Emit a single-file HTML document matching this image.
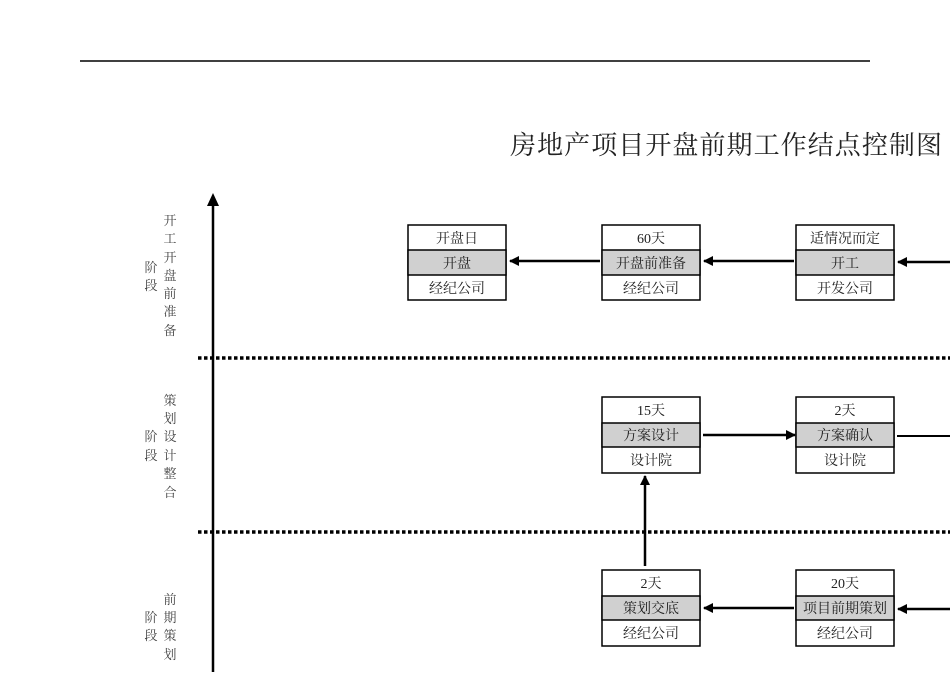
<!DOCTYPE html>
<html><head><meta charset="utf-8"><style>
html,body{margin:0;padding:0;background:#fff;}
svg text{font-family:"Liberation Serif","Noto Serif CJK SC",serif;}
</style></head><body>
<svg width="950" height="672" viewBox="0 0 950 672" xmlns="http://www.w3.org/2000/svg">
<defs>
<marker id="ah" markerWidth="10" markerHeight="10" refX="9" refY="5" orient="auto" markerUnits="userSpaceOnUse">
<path d="M0,0 L10,5 L0,10 z" fill="#000"/></marker>
</defs>
<line x1="80" y1="61" x2="870" y2="61" stroke="#000" stroke-width="1.5"/>
<text x="510" y="154" font-size="26" fill="#222" textLength="432">房地产项目开盘前期工作结点控制图</text>
<line x1="213" y1="672" x2="213" y2="204" stroke="#000" stroke-width="2.5"/>
<path d="M207,206 L213,193 L219,206 z" fill="#000"/>
<line x1="198" y1="358" x2="950" y2="358" stroke="#000" stroke-width="3.5" stroke-dasharray="3.5,2.5"/>
<line x1="198" y1="532" x2="950" y2="532" stroke="#000" stroke-width="3.5" stroke-dasharray="3.5,2.5"/>
<g font-size="13" fill="#444" text-anchor="middle">
<text x="170" y="225">开</text><text x="170" y="243">工</text><text x="170" y="262">开</text><text x="170" y="280">盘</text><text x="170" y="298">前</text><text x="170" y="316">准</text><text x="170" y="335">备</text>
<text x="151" y="272">阶</text><text x="151" y="290">段</text>
<text x="170" y="405">策</text><text x="170" y="423">划</text><text x="170" y="441">设</text><text x="170" y="460">计</text><text x="170" y="478">整</text><text x="170" y="497">合</text>
<text x="151" y="441">阶</text><text x="151" y="460">段</text>
<text x="170" y="604">前</text><text x="170" y="622">期</text><text x="170" y="640">策</text><text x="170" y="659">划</text>
<text x="151" y="622">阶</text><text x="151" y="640">段</text>
</g>
<g stroke="#000" stroke-width="1.5" font-size="14" text-anchor="middle">
<g transform="translate(408,225)">
<rect x="0" y="0" width="98" height="75" fill="#fff"/><rect x="0" y="25" width="98" height="25" fill="#d0d0d0"/>
<g stroke="none" fill="#222"><text x="49" y="18">开盘日</text><text x="49" y="43">开盘</text><text x="49" y="68">经纪公司</text></g></g>
<g transform="translate(602,225)">
<rect x="0" y="0" width="98" height="75" fill="#fff"/><rect x="0" y="25" width="98" height="25" fill="#d0d0d0"/>
<g stroke="none" fill="#222"><text x="49" y="18">60天</text><text x="49" y="43">开盘前准备</text><text x="49" y="68">经纪公司</text></g></g>
<g transform="translate(796,225)">
<rect x="0" y="0" width="98" height="75" fill="#fff"/><rect x="0" y="25" width="98" height="25" fill="#d0d0d0"/>
<g stroke="none" fill="#222"><text x="49" y="18">适情况而定</text><text x="49" y="43">开工</text><text x="49" y="68">开发公司</text></g></g>
<g transform="translate(602,397)">
<rect x="0" y="0" width="98" height="76" fill="#fff"/><rect x="0" y="26" width="98" height="24" fill="#d0d0d0"/>
<g stroke="none" fill="#222"><text x="49" y="18">15天</text><text x="49" y="43">方案设计</text><text x="49" y="68">设计院</text></g></g>
<g transform="translate(796,397)">
<rect x="0" y="0" width="98" height="76" fill="#fff"/><rect x="0" y="26" width="98" height="24" fill="#d0d0d0"/>
<g stroke="none" fill="#222"><text x="49" y="18">2天</text><text x="49" y="43">方案确认</text><text x="49" y="68">设计院</text></g></g>
<g transform="translate(602,570)">
<rect x="0" y="0" width="98" height="76" fill="#fff"/><rect x="0" y="26" width="98" height="24" fill="#d0d0d0"/>
<g stroke="none" fill="#222"><text x="49" y="18">2天</text><text x="49" y="43">策划交底</text><text x="49" y="68">经纪公司</text></g></g>
<g transform="translate(796,570)">
<rect x="0" y="0" width="98" height="76" fill="#fff"/><rect x="0" y="26" width="98" height="24" fill="#d0d0d0"/>
<g stroke="none" fill="#222"><text x="49" y="18">20天</text><text x="49" y="43">项目前期策划</text><text x="49" y="68">经纪公司</text></g></g>
</g>
<g stroke="#000" stroke-width="2.5" fill="none">
<line x1="600" y1="261" x2="510" y2="261" marker-end="url(#ah)"/>
<line x1="794" y1="261" x2="704" y2="261" marker-end="url(#ah)"/>
<line x1="950" y1="262" x2="898" y2="262" marker-end="url(#ah)"/>
<line x1="703" y1="435" x2="795" y2="435" marker-end="url(#ah)"/>
<line x1="897" y1="436" x2="950" y2="436" stroke-width="2"/>
<line x1="794" y1="608" x2="704" y2="608" marker-end="url(#ah)"/>
<line x1="950" y1="609" x2="898" y2="609" marker-end="url(#ah)"/>
<line x1="645" y1="566" x2="645" y2="476" marker-end="url(#ah)"/>
</g>
</svg>
</body></html>
